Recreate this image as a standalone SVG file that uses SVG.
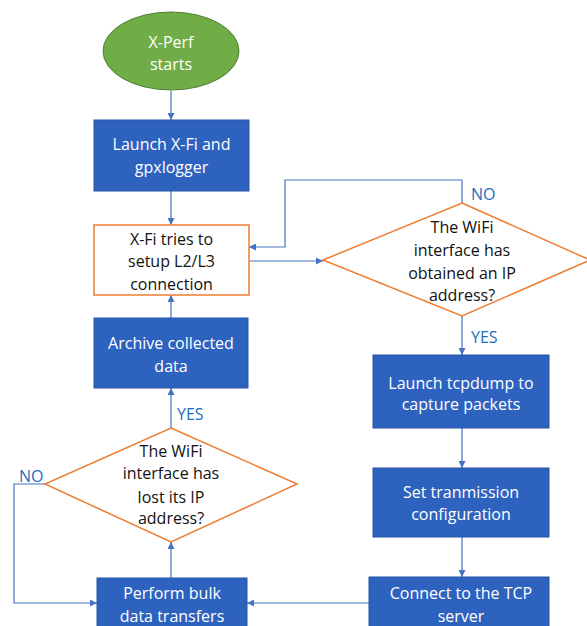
<svg xmlns="http://www.w3.org/2000/svg" width="587" height="626" viewBox="0 0 587 626">
<defs>
<style>
.t{font-family:"Open Sans","Liberation Sans",sans-serif;font-size:16px;text-anchor:middle}
.w{fill:#ffffff}
.k{fill:#111111}
.lbl{font-family:"Open Sans","Liberation Sans",sans-serif;font-size:16px;fill:#1F6CC0}
.box{fill:#2E62BF;stroke:#2A55A5;stroke-width:1}
.dec{fill:#ffffff;stroke:#ED7D31;stroke-width:1.5}
.ln{fill:none;stroke:#4472C4;stroke-width:1.2;marker-end:url(#ah)}
</style>
<marker id="ah" viewBox="0 0 10 10" refX="10" refY="5" markerWidth="7" markerHeight="7" markerUnits="userSpaceOnUse" orient="auto">
<path d="M0,0 L10,5 L0,10 z" fill="#4472C4"/>
</marker>
</defs>
<rect width="587" height="626" fill="#ffffff"/>
<g id="connectors">
<path class="ln" d="M171,91 V120"/>
<path class="ln" d="M171,191 V225"/>
<path class="ln" d="M249,261 H323"/>
<path class="ln" d="M462,203 V180 H285 V247 H249"/>
<path class="ln" d="M462,316 V355"/>
<path class="ln" d="M462,428 V468"/>
<path class="ln" d="M462,537 V577"/>
<path class="ln" d="M369,603 H247"/>
<path class="ln" d="M171,578 V542"/>
<path class="ln" d="M45,484 H14 V603 H97"/>
<path class="ln" d="M171,428 V388"/>
<path class="ln" d="M171,318 V295"/>
<text class="lbl" x="471" y="200">NO</text>
<text class="lbl" x="471" y="343">YES</text>
<text class="lbl" x="177" y="420">YES</text>
<text class="lbl" x="19" y="482">NO</text>
</g>
<g id="start">
<ellipse cx="171" cy="51" rx="68" ry="39" fill="#70AD47" stroke="#507E32" stroke-width="1"/>
<text class="t w" x="171" y="48">X-Perf</text>
<text class="t w" x="171" y="70">starts</text>
</g>
<g id="launch">
<rect class="box" x="94" y="120" width="155" height="71"/>
<text class="t w" x="171.5" y="150">Launch X-Fi and</text>
<text class="t w" x="171.5" y="173">gpxlogger</text>
</g>
<g id="setup">
<rect x="94" y="225" width="155" height="70" fill="#ffffff" stroke="#ED7D31" stroke-width="1.5"/>
<text class="t k" x="171.5" y="245">X-Fi tries to</text>
<text class="t k" x="171.5" y="267">setup L2/L3</text>
<text class="t k" x="171.5" y="290">connection</text>
</g>
<g id="obtained">
<polygon class="dec" points="462,203 590,260 462,316 323,260"/>
<text class="t k" x="462" y="233">The WiFi</text>
<text class="t k" x="462" y="256">interface has</text>
<text class="t k" x="462" y="279">obtained an IP</text>
<text class="t k" x="462" y="301">address?</text>
</g>
<g id="tcpdump">
<rect class="box" x="373" y="355" width="176" height="73"/>
<text class="t w" x="461" y="389">Launch tcpdump to</text>
<text class="t w" x="461" y="410">capture packets</text>
</g>
<g id="config">
<rect class="box" x="373" y="468" width="176" height="69"/>
<text class="t w" x="461" y="498">Set tranmission</text>
<text class="t w" x="461" y="520">configuration</text>
</g>
<g id="connect">
<rect class="box" x="369" y="577" width="180" height="60"/>
<text class="t w" x="461" y="599">Connect to the TCP</text>
<text class="t w" x="461" y="622">server</text>
</g>
<g id="bulk">
<rect class="box" x="97" y="578" width="150" height="60"/>
<text class="t w" x="172" y="599">Perform bulk</text>
<text class="t w" x="172" y="622">data transfers</text>
</g>
<g id="lost">
<polygon class="dec" points="171,428 297,484 171,542 45,484"/>
<text class="t k" x="171" y="457">The WiFi</text>
<text class="t k" x="171" y="479">interface has</text>
<text class="t k" x="171" y="503">lost its IP</text>
<text class="t k" x="171" y="524">address?</text>
</g>
<g id="archive">
<rect class="box" x="94" y="318" width="154" height="70"/>
<text class="t w" x="171" y="349">Archive collected</text>
<text class="t w" x="171" y="372">data</text>
</g>
</svg>
